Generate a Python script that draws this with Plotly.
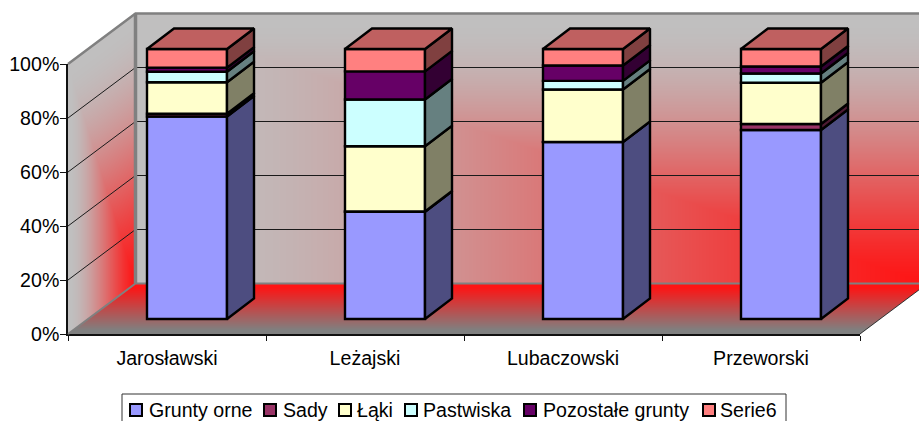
import base64, struct, zlib
import numpy as np
import plotly.graph_objects as go

# ---- data (percent shares, stacked) ----
CATEGORIES = ["Jarosławski", "Leżajski", "Lubaczowski", "Przeworski"]
GRUNTY_ORNE = [75.0, 39.7, 65.5, 70.0]
SADY = [1.0, 0.1, 0.1, 2.2]
LAKI = [11.7, 24.2, 19.4, 15.3]
PASTWISKA = [3.9, 17.3, 3.2, 3.4]
POZOSTALE = [1.5, 10.4, 5.7, 2.6]
SERIE6 = [6.9, 8.3, 6.1, 6.5]
Y_TICKS = [0, 20, 40, 60, 80, 100]
Y_LABELS = ["0%", "20%", "40%", "60%", "80%", "100%"]

SERIES = [
    ("Grunty orne", GRUNTY_ORNE, "#9999FF", "#4D4D80"),
    ("Sady", SADY, "#993366", "#4D1A33"),
    ("Łąki", LAKI, "#FFFFCC", "#808066"),
    ("Pastwiska", PASTWISKA, "#CCFFFF", "#668080"),
    ("Pozostałe grunty", POZOSTALE, "#660066", "#330033"),
    ("Serie6", SERIE6, "#FF8080", "#804040"),
]
TOP_COLOR = "#BF6060"

W, H = 919, 421
FONT = "Liberation Sans"
FS = 19.6
EDGE = 2.4
# pixel geometry of the front plane and of the 3-D projection
LEFT, RIGHT, Y0, Y100 = 68.0, 860.0, 334.0, 64.0
CAT_PX = (RIGHT - LEFT) / 4
PCT_PX = (Y0 - Y100) / 100
WALL_DX, WALL_DY = 67.5, 50.5
BAR_DX, BAR_DY = 20.0, 15.0
SIDE_DX, SIDE_DY = 27.0, 20.5
BAR_W = 80.0 / CAT_PX
# legend layout (pixels)
LEG_SWATCH_X = [136, 270, 345, 411, 530, 709]
LEG_TEXT_X = [147.5, 282, 356, 422, 542, 719]
LEG_BOX = (122, 394, 786, 423)
LEG_Y = 410


def wall_png():
    X, Y = np.meshgrid(np.arange(W) + 0.5, np.arange(H) + 0.5)
    img = np.zeros((H, W, 4), dtype=float)
    red = np.array([255.0, 20.0, 20.0])
    gray = np.array([192.0, 192.0, 192.0])
    dark = np.array([128.0, 128.0, 128.0])

    def ease(s):
        s = np.clip(s, 0, 1)
        return 0.5 * (np.sin(s * np.pi / 2) + s * s * (3 - 2 * s))

    def paint(mask, g, end):
        g = np.clip(g, 0, 1)[..., None]
        col = red + g * (end - red)
        img[mask, :3] = col[mask]
        img[mask, 3] = 255

    bx = LEFT + WALL_DX
    by = Y0 - WALL_DY
    # floor
    a = (Y0 - Y) / WALL_DY
    m = (Y <= Y0) & (Y >= by) & (X >= LEFT + a * WALL_DX) & (X <= RIGHT + a * WALL_DX)
    paint(m, (Y - 287) / 43, dark)
    # back wall
    m = (X >= bx) & (Y >= by - 270) & (Y <= by)
    s = np.maximum((RIGHT + WALL_DX - X) / (RIGHT - LEFT), (by - Y) / 270)
    paint(m, ease(s), gray)
    # side wall
    a = (X - LEFT) / WALL_DX
    yb = Y0 - a * WALL_DY
    m = (X >= LEFT) & (X <= bx) & (Y <= yb) & (Y >= yb - 270)
    s = np.maximum(1 - a, (yb - Y) / 270)
    paint(m, ease(s), gray)

    raw = b"".join(b"\x00" + row.tobytes() for row in img.astype(np.uint8))

    def chunk(tag, data):
        return struct.pack(">I", len(data)) + tag + data + struct.pack(">I", zlib.crc32(tag + data))

    png = (b"\x89PNG\r\n\x1a\n" + chunk(b"IHDR", struct.pack(">IIBBBBB", W, H, 8, 6, 0, 0, 0))
           + chunk(b"IDAT", zlib.compress(raw)) + chunk(b"IEND", b""))
    return "data:image/png;base64," + base64.b64encode(png).decode()


fig = go.Figure()

# primary axes carry the real ticks and labels
fig.add_trace(go.Scatter(x=CATEGORIES, y=[None] * 4, showlegend=False, hoverinfo="skip"))

D_X, D_Y = WALL_DX / CAT_PX, WALL_DY / PCT_PX
x_lo, x_hi = -0.5, len(CATEGORIES) - 0.5


def line(xs, ys, color, width):
    fig.add_trace(go.Scatter(x=xs, y=ys, mode="lines", line=dict(color=color, width=width),
                             showlegend=False, hoverinfo="skip", xaxis="x2", yaxis="y2"))


for v in Y_TICKS[1:-1]:
    line([x_lo, x_lo + D_X, x_hi + D_X], [v, v + D_Y, v + D_Y], "#1a1a1a", 1)
line([x_lo, x_lo + D_X, x_hi + D_X], [0, D_Y, D_Y], "#808080", 2)
line([x_lo, x_lo + D_X, x_hi + D_X], [100, 100 + D_Y, 100 + D_Y], "#808080", 2.5)
line([x_lo + D_X, x_lo + D_X], [D_Y, 100 + D_Y], "#808080", 3.5)
line([x_hi, x_hi + D_X], [0, D_Y], "#333333", 1)

# bars
off_x, off_y = BAR_DX / CAT_PX, BAR_DY / PCT_PX
sx, sy = SIDE_DX / CAT_PX, SIDE_DY / PCT_PX
xpos = [i + off_x for i in range(len(CATEGORIES))]
bottom = np.zeros(len(CATEGORIES))
for name, vals, col, side in SERIES:
    vals = np.array(vals, dtype=float)
    fig.add_trace(go.Bar(x=xpos, y=vals, base=bottom + off_y, width=BAR_W, name=name,
                         marker=dict(color=col, line=dict(color="black", width=EDGE)),
                         xaxis="x3", yaxis="y3", hoverinfo="skip", showlegend=False))
    px, py = [], []
    for x, b, v in zip(xpos, bottom + off_y, vals):
        r = x + BAR_W / 2
        px += [r, r + sx, r + sx, r, r, None]
        py += [b, b + sy, b + v + sy, b + v, b, None]
    fig.add_trace(go.Scatter(x=px, y=py, mode="lines", fill="toself", fillcolor=side,
                             line=dict(color="black", width=EDGE), showlegend=False,
                             hoverinfo="skip", xaxis="x3", yaxis="y3"))
    bottom = bottom + vals

px, py = [], []
for x, t in zip(xpos, bottom + off_y):
    l, r = x - BAR_W / 2, x + BAR_W / 2
    px += [l, r, r + sx, l + sx, l, None]
    py += [t, t, t + sy, t + sy, t, None]
fig.add_trace(go.Scatter(x=px, y=py, mode="lines", fill="toself", fillcolor=TOP_COLOR,
                         line=dict(color="black", width=EDGE), showlegend=False,
                         hoverinfo="skip", xaxis="x3", yaxis="y3"))

full_x = [-LEFT / CAT_PX - 0.5, (W - LEFT) / CAT_PX - 0.5]
full_y = [-(H - Y0) / PCT_PX, Y0 / PCT_PX]
hidden = dict(visible=False, domain=[0, 1], fixedrange=True, automargin=False)

# legend, laid out like the original's tight key
annotations = []
for (name, vals, col, side), sw, tx in zip(SERIES, LEG_SWATCH_X, LEG_TEXT_X):
    fig.add_trace(go.Scatter(x=[(sw - LEFT) / CAT_PX - 0.5], y=[(Y0 - LEG_Y) / PCT_PX], mode="markers",
                             marker=dict(symbol="square", size=12, color=col,
                                         line=dict(color="black", width=2)),
                             showlegend=False, hoverinfo="skip", xaxis="x3", yaxis="y3"))
    annotations.append(dict(text=name, xref="paper", yref="paper", x=tx / W, y=1 - LEG_Y / H,
                            xanchor="left", yanchor="middle", showarrow=False,
                            font=dict(size=FS, family=FONT, color="black"), borderpad=0))

fig.update_layout(
    template="none",
    width=W, height=H, autosize=False,
    margin=dict(l=0, r=0, t=0, b=0, pad=0),
    paper_bgcolor="white", plot_bgcolor="rgba(0,0,0,0)",
    barmode="overlay", showlegend=False,
    font=dict(family=FONT, size=FS, color="black"),
    xaxis=dict(type="category", categoryorder="array", categoryarray=CATEGORIES,
               domain=[LEFT / W, RIGHT / W], range=[-0.5, 3.5], tickson="boundaries",
               showline=True, linecolor="#111111", linewidth=2, ticks="outside", ticklen=5,
               tickcolor="#111111", showgrid=False, zeroline=False, anchor="y", automargin=False,
               tickfont=dict(size=FS), ticklabelstandoff=5),
    yaxis=dict(domain=[(H - Y0) / H, (H - Y100) / H], range=[0, 100], tickvals=Y_TICKS,
               ticktext=Y_LABELS, showline=True, linecolor="#111111", linewidth=1.5,
               ticks="outside", ticklen=6, tickcolor="#111111", showgrid=False, automargin=False,
               zeroline=False, anchor="x", tickfont=dict(size=FS), ticklabelstandoff=-3),
    xaxis2=dict(range=full_x, anchor="y2", **hidden),
    yaxis2=dict(range=full_y, anchor="x2", **hidden),
    xaxis3=dict(range=full_x, anchor="y3", **hidden),
    yaxis3=dict(range=full_y, anchor="x3", **hidden),
    annotations=annotations,
    shapes=[dict(type="rect", xref="paper", yref="paper",
                 x0=LEG_BOX[0] / W, x1=LEG_BOX[2] / W, y0=1 - LEG_BOX[3] / H, y1=1 - LEG_BOX[1] / H,
                 line=dict(color="#333333", width=1), fillcolor="white", layer="below")],
    images=[dict(source=wall_png(), xref="paper", yref="paper", x=0, y=1, sizex=1, sizey=1,
                 xanchor="left", yanchor="top", sizing="stretch", layer="below")],
)

fig.write_html("out.html", post_script="document.body.style.margin='0';",
               config={"displayModeBar": False})
